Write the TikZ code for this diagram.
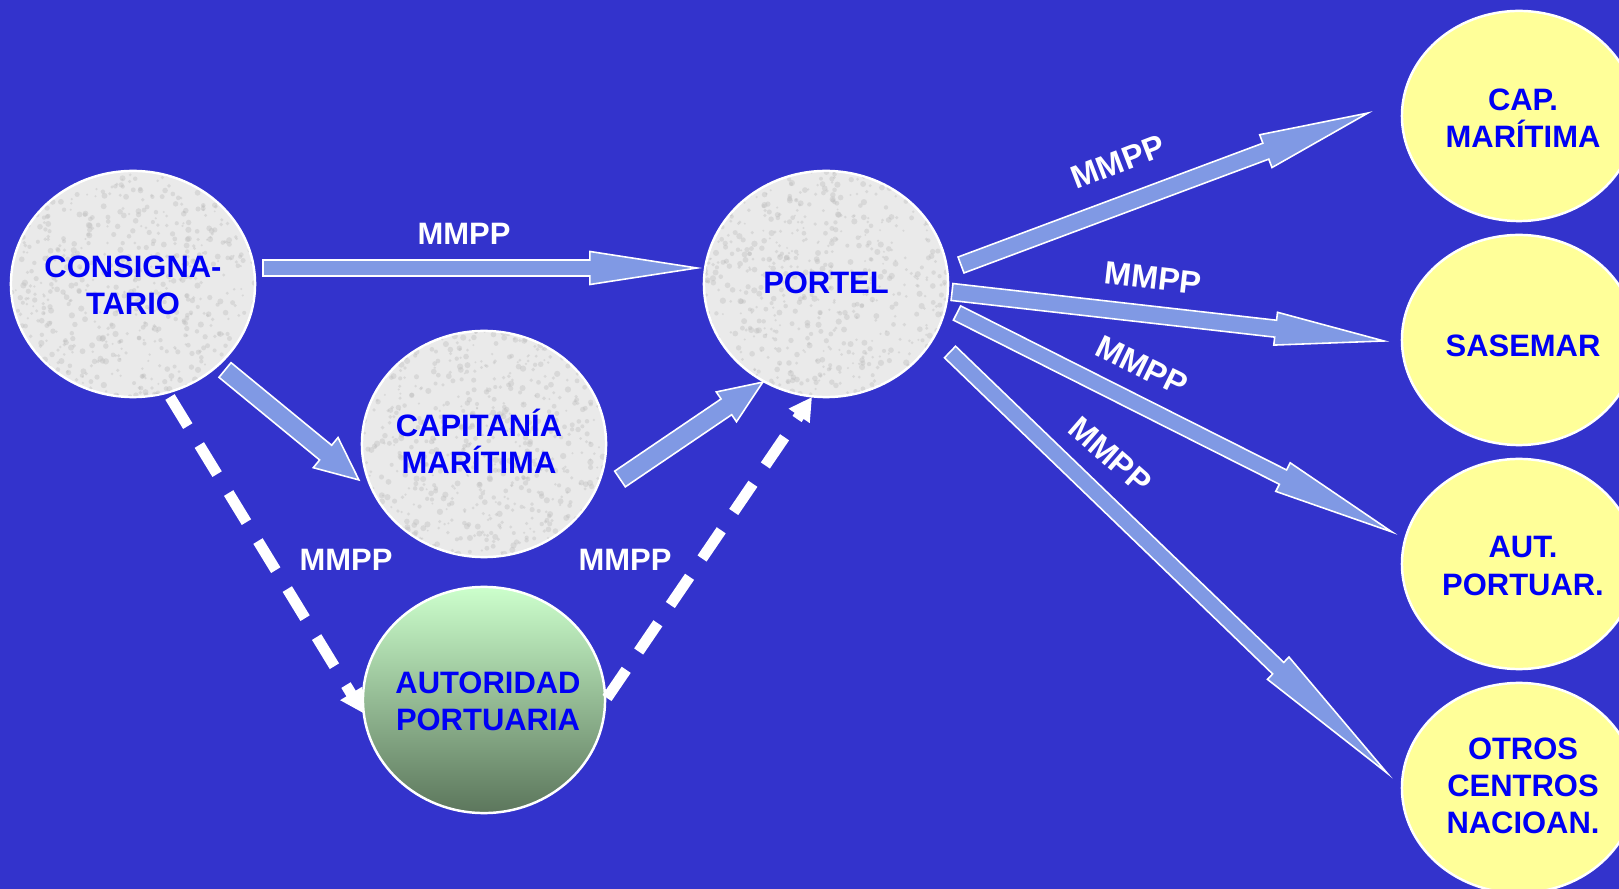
\documentclass[tikz,border=0pt]{standalone}
\usepackage{fontspec}
\setmainfont{Liberation Sans}
\usetikzlibrary{shapes.geometric,arrows.meta,calc}
\definecolor{bg}{RGB}{51,51,204}
\definecolor{txtblue}{RGB}{0,0,245}
\definecolor{arrfill}{RGB}{128,153,228}
\definecolor{gray1}{RGB}{234,234,234}
\definecolor{grayspot}{RGB}{190,190,190}
\definecolor{yel}{RGB}{255,255,153}
\definecolor{gtop}{RGB}{204,255,204}
\definecolor{gbot}{RGB}{92,118,92}
\def\pxu{0.28453pt}
\makeatletter
\newcommand\blockarrow[5]{%
  \pgfpointdiff{\pgfpointanchor{#1}{center}}{\pgfpointanchor{#2}{center}}%
  \edef\ba@dx{\the\pgf@x}\edef\ba@dy{\the\pgf@y}%
  \pgfmathsetmacro\ba@len{veclen(\ba@dx,\ba@dy)}%
  \pgfmathsetmacro\ba@ang{atan2(\ba@dy,\ba@dx)}%
  \begin{scope}[shift={(#1)},rotate=\ba@ang]
    \filldraw[blockarr] (0pt,{#3*\pxu/2}) -- ({\ba@len pt-#5*\pxu},{#3*\pxu/2})
      -- ({\ba@len pt-#5*\pxu},{#4*\pxu/2}) -- (\ba@len pt,0pt)
      -- ({\ba@len pt-#5*\pxu},{-#4*\pxu/2}) -- ({\ba@len pt-#5*\pxu},{-#3*\pxu/2})
      -- (0pt,{-#3*\pxu/2}) -- cycle;
  \end{scope}}
\makeatother
\begin{document}
\begin{tikzpicture}[x=0.01cm,y=-0.01cm,
  grayell/.style={ellipse,draw=white,line width=0.7pt,fill=gray1,minimum width=2.44cm,minimum height=2.26cm,inner sep=0pt},
  yellell/.style={ellipse,draw=white,line width=0.7pt,fill=yel,minimum width=2.34cm,minimum height=2.10cm,inner sep=0pt},
  greenell/.style={ellipse,draw=white,line width=0.7pt,top color=gtop,bottom color=gbot,minimum width=2.42cm,minimum height=2.26cm,inner sep=0pt},
  nodetxt/.style={text=txtblue,font=\fontsize{8.8}{10.6}\selectfont\bfseries,align=center,inner sep=0pt},
  mmpp/.style={text=white,font=\fontsize{8.8}{10.6}\selectfont\bfseries,inner sep=0pt},
  mmppr/.style={text=white,font=\fontsize{9.2}{10.6}\selectfont\bfseries,inner sep=0pt},
  blockarr/.style={fill=arrfill,draw=white,line width=0.45pt,line join=miter},
  dasharr/.style={draw=white,line width=3.1pt,dash pattern=on 9.7pt off 6.3pt,-{Triangle[length=6.5pt,width=6.8pt]}}
]
\useasboundingbox (0,0) rectangle (1619,889);
\fill[bg] (0,0) rectangle (1619,889);
\clip (0,0) rectangle (1619,889);

% nodes
\node[grayell] (cons) at (133,284) {};
\node[grayell] (portel) at (826,284) {};
\node[grayell] (capi) at (484,444) {};
\node[greenell] (auto) at (484,700) {};
\node[yellell] (y1) at (1519,116) {};
\node[yellell] (y2) at (1519,340) {};
\node[yellell] (y3) at (1519,564) {};
\node[yellell] (y4) at (1519,788) {};

% fine mottled texture of the grey ellipses
\pgfmathsetseed{7}
\foreach \n in {cons,portel,capi}{
  \begin{scope}
    \clip (\n.center) ellipse [x radius=1.21cm, y radius=1.12cm];
    \foreach \i in {1,...,700}{
      \pgfmathsetmacro\dx{rnd*244-122}
      \pgfmathsetmacro\dy{rnd*226-113}
      \pgfmathsetmacro\rr{0.3+rnd*0.6}
      \fill[grayspot,opacity=0.4] ($(\n.center)+(\dx,\dy)$) circle (\rr pt);
    }
  \end{scope}
}

% texts
\node[nodetxt] (cons-t) at (133,285) {CONSIGNA-\\TARIO};
\node[nodetxt] (portel-t) at (826,283) {PORTEL};
\node[nodetxt] (capi-t) at (479,441) {CAPITANÍA\\MARÍTIMA};
\node[nodetxt] (auto-t) at (488,701) {AUTORIDAD\\PORTUARIA};
\node[nodetxt] (y1-t) at (1523,118) {CAP.\\MARÍTIMA};
\node[nodetxt] (y2-t) at (1523,346) {SASEMAR};
\node[nodetxt] (y3-t) at (1523,566) {AUT.\\PORTUAR.};
\node[nodetxt] (y4-t) at (1523,786) {OTROS\\CENTROS\\NACIOAN.};

% arrow ends
\coordinate (a1s) at (263,268);  \coordinate (a1t) at (697,268);
\coordinate (a2s) at (225,370);  \coordinate (a2t) at (359,480);
\coordinate (a3s) at (620,479);  \coordinate (a3t) at (763,382);
\coordinate (a4s) at (961,265);  \coordinate (a4t) at (1368,113);
\coordinate (a5s) at (952,292);  \coordinate (a5t) at (1384,341);
\coordinate (a6s) at (957,313);  \coordinate (a6t) at (1392,532);
\coordinate (a7s) at (950,352);  \coordinate (a7t) at (1387,773);
\coordinate (d1s) at (170,397);  \coordinate (d1t) at (363,713);
\coordinate (d2s) at (607,698);  \coordinate (d2t) at (812,397);

\blockarrow{a1s}{a1t}{16}{33}{107}
\blockarrow{a2s}{a2t}{19}{39}{43}
\blockarrow{a3s}{a3t}{19}{36}{44}
\blockarrow{a4s}{a4t}{17}{35}{109}
\blockarrow{a5s}{a5t}{17}{33}{109}
\blockarrow{a6s}{a6t}{16}{32}{122}
\blockarrow{a7s}{a7t}{16}{31}{151}

\draw[dasharr] (d1s) -- (d1t);
\draw[dasharr] (d2s) -- (d2t);

% labels
\node[mmpp] (l1) at (464,234) {MMPP};
\node[mmpp] (l2) at (346,560) {MMPP};
\node[mmpp] (l3) at (625,560) {MMPP};
\node[mmppr,rotate=21] (l4) at (1118,162) {MMPP};
\node[mmppr,rotate=-6.5] (l5) at (1153,278) {MMPP};
\node[mmppr,rotate=-26] (l6) at (1142,366) {MMPP};
\node[mmppr,rotate=-41] (l7) at (1110,455) {MMPP};
\end{tikzpicture}
\end{document}
